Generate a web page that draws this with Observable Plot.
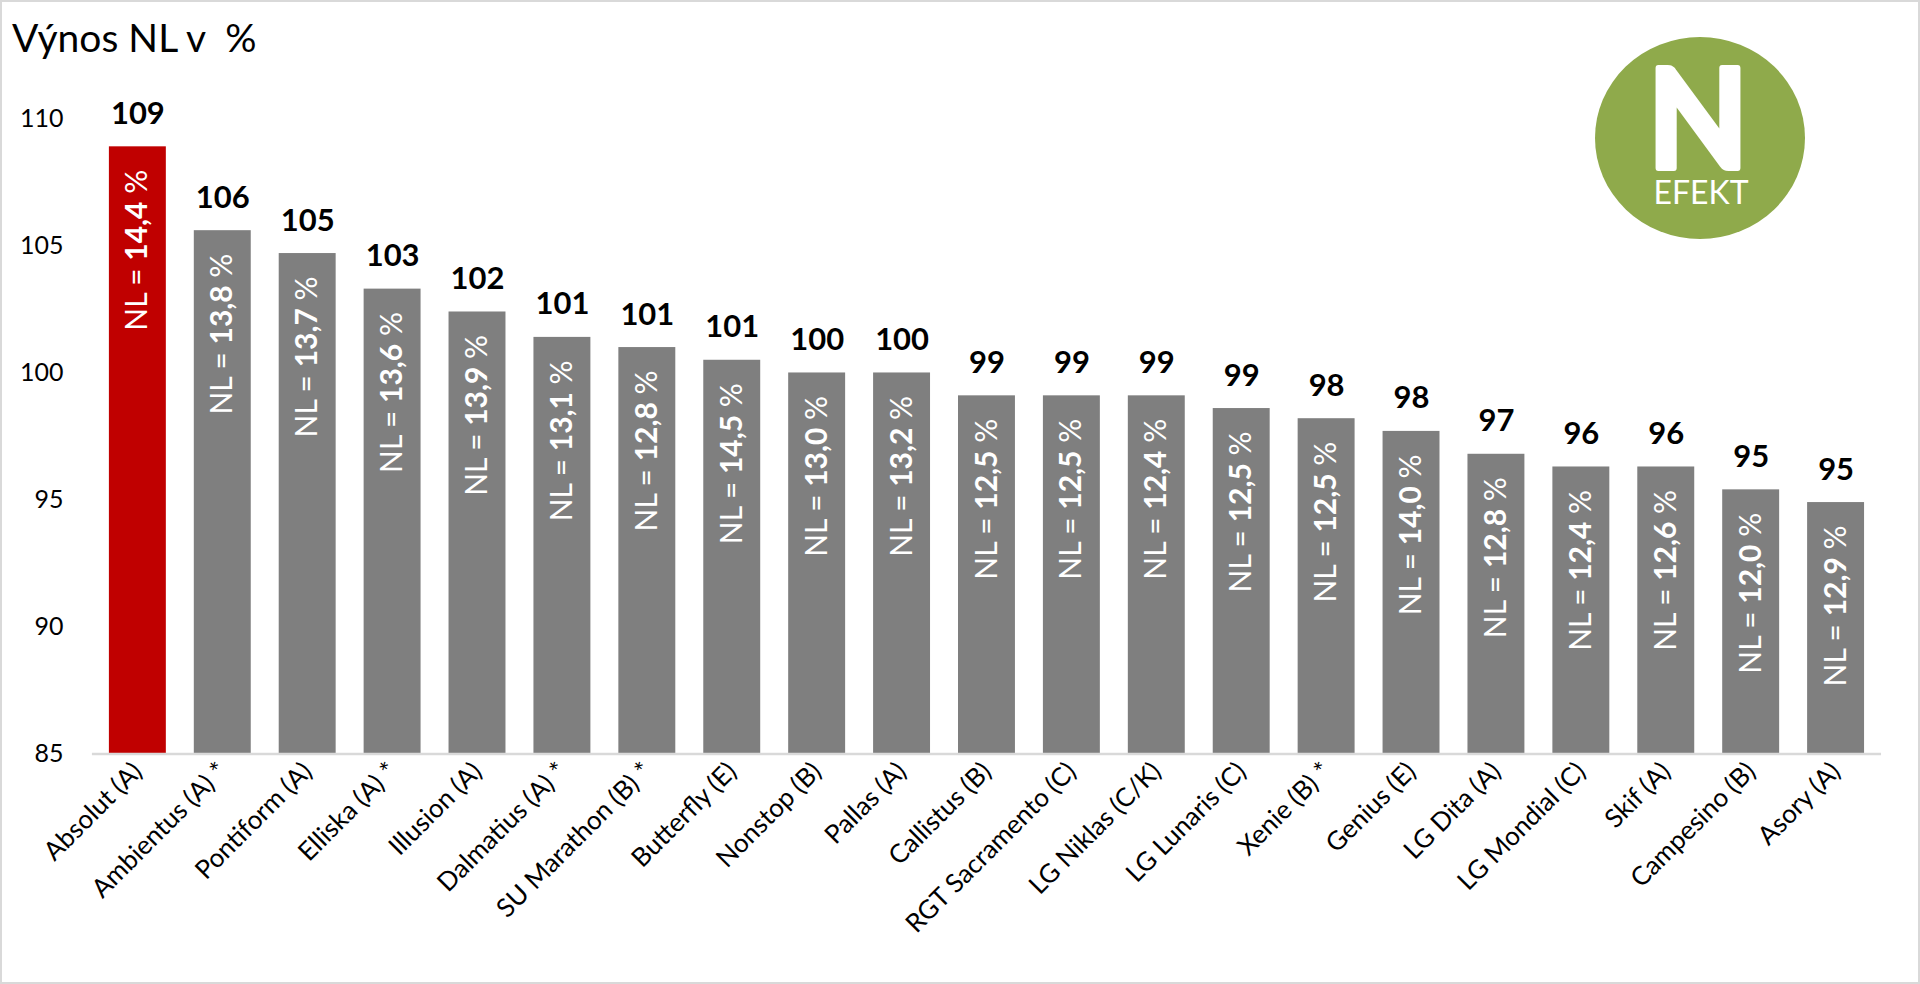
<!DOCTYPE html>
<html>
<head>
<meta charset="utf-8">
<script src="https://cdn.jsdelivr.net/npm/d3@7"></script>
<script src="https://cdn.jsdelivr.net/npm/@observablehq/plot@0.6"></script>
<style>
  html, body { margin: 0; padding: 0; background: #fff; }
  #frame { position: relative; width: 1920px; height: 984px; box-sizing: border-box; border: 2px solid #d9d9d9; overflow: hidden; font-family: Lato, "Open Sans", sans-serif; }
  #title { position: absolute; left: 10px; top: 16px; font-size: 39px; line-height: 39px; color: #000; white-space: pre; }
  #chart { position: absolute; left: -2px; top: -2px; }
  #logo { position: absolute; left: 1588px; top: 1px; overflow: visible; }
</style>
</head>
<body>
<div id="frame">
  <div id="title">Výnos NL v  %</div>
  <div id="chart"></div>
  <svg id="logo" width="220" height="250" viewBox="0 0 220 250">
    <ellipse cx="110" cy="135" rx="105" ry="101" fill="#8faa4b"></ellipse>
    <text x="108" y="165" text-anchor="middle" font-family="Lato" font-weight="bold" font-size="138" fill="#fff" stroke="#fff" stroke-width="6" stroke-linejoin="round" textLength="100" lengthAdjust="spacingAndGlyphs">N</text>
    <text x="111" y="201" text-anchor="middle" font-family="Lato" font-size="32" fill="#fff" textLength="95" lengthAdjust="spacingAndGlyphs">EFEKT</text>
  </svg>
</div>
<script>
const varieties = [
  "Absolut (A)", "Ambientus (A) *", "Pontiform (A)", "Elliska (A) *", "Illusion (A)",
  "Dalmatius (A) *", "SU Marathon (B) *", "Butterfly (E)", "Nonstop (B)", "Pallas (A)",
  "Callistus (B)", "RGT Sacramento (C)", "LG Niklas (C/K)", "LG Lunaris (C)", "Xenie (B) *",
  "Genius (E)", "LG Dita (A)", "LG Mondial (C)", "Skif (A)", "Campesino (B)", "Asory (A)"
];
const yields = [108.9, 105.6, 104.7, 103.3, 102.4, 101.4, 101.0, 100.5, 100.0, 100.0,
                99.1, 99.1, 99.1, 98.6, 98.2, 97.7, 96.8, 96.3, 96.3, 95.4, 94.9];
const nlContent = [14.4, 13.8, 13.7, 13.6, 13.9, 13.1, 12.8, 14.5, 13.0, 13.2,
                   12.5, 12.5, 12.4, 12.5, 12.5, 14.0, 12.8, 12.4, 12.6, 12.0, 12.9];
const highlighted = ["Absolut (A)"];
const yTicks = [85, 90, 95, 100, 105, 110];

const data = varieties.map((v, i) => ({variety: v, yield: yields[i], nl: nlContent[i]}));
const fmtNL = (n) => n.toFixed(1).replace(".", ",");

const chart = Plot.plot({
  width: 1920,
  height: 984,
  marginLeft: 92,
  marginRight: 37,
  marginTop: 118.5,
  marginBottom: 229.6,
  style: {fontFamily: "Lato, 'Open Sans', sans-serif", fontSize: "25px", color: "#000", background: "transparent", overflow: "visible"},
  x: {domain: varieties, paddingInner: 0.333, paddingOuter: 0.1667, label: null},
  y: {domain: [85, 110], label: null},
  marks: [
    Plot.axisX({tickSize: 0, tickRotate: -45, tickPadding: 13, fontSize: 26, label: null}),
    Plot.axisY({ticks: yTicks, tickSize: 0, tickPadding: 29, fontSize: 25, label: null}),
    Plot.barY(data.filter(d => !highlighted.includes(d.variety)), {x: "variety", y1: 85, y2: "yield", fill: "#7f7f7f"}),
    Plot.barY(data.filter(d => highlighted.includes(d.variety)), {x: "variety", y1: 85, y2: "yield", fill: "#c00000"}),
    Plot.ruleY([85], {stroke: "#d9d9d9", strokeWidth: 2.5}),
    Plot.text(data, {x: "variety", y: "yield", text: d => String(Math.round(d.yield)), lineAnchor: "bottom", dy: -23, fontWeight: "bold", fontSize: 31, fill: "#000"}),
    Plot.text(data, {x: "variety", y: "yield", text: d => `NL = ${fmtNL(d.nl)} %`, rotate: -90, textAnchor: "end", lineAnchor: "middle", dy: 23, fill: "#fff", fontSize: 30})
  ]
});

const ns = "http://www.w3.org/2000/svg";
chart.querySelectorAll("text").forEach(t => {
  const m = /^NL = (.+) %$/.exec(t.textContent);
  if (!m) return;
  t.textContent = "";
  t.style.whiteSpace = "pre";
  const a = document.createElementNS(ns, "tspan"); a.textContent = "NL = ";
  const b = document.createElementNS(ns, "tspan"); b.textContent = m[1]; b.setAttribute("font-weight", "bold");
  const c = document.createElementNS(ns, "tspan"); c.textContent = " %";
  t.append(a, b, c);
});

document.getElementById("chart").append(chart);
</script>
</body>
</html>
